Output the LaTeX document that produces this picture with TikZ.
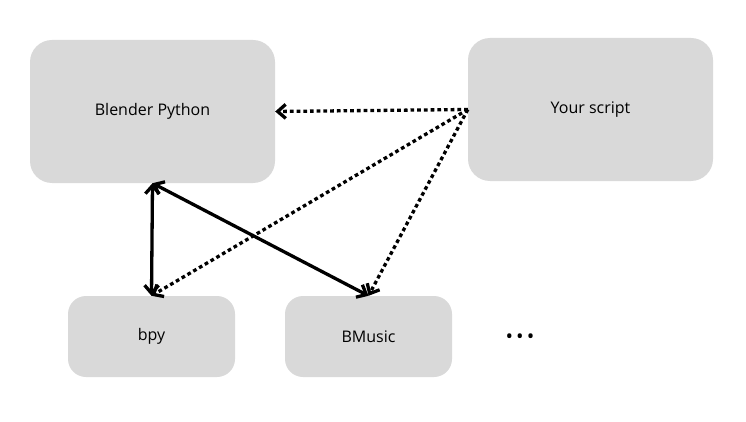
\documentclass[tikz,border=0pt]{standalone}
\usepackage{fontspec}
\setmainfont{Open Sans}
\usetikzlibrary{arrows.meta}

\begin{document}
\begin{tikzpicture}[x=1pt,y=-1pt,
  box/.style={fill=black!15, rounded corners=22pt, inner sep=0pt, font=\fontsize{16}{19}\selectfont},
  small/.style={box, rounded corners=18pt},
  link/.style={line width=3.3pt, {Straight Barb[length=8pt,width=14pt]}-{Straight Barb[length=8pt,width=14pt]}},
  call/.style={line width=3.3pt, dash pattern=on 3.7pt off 3pt, -{Straight Barb[length=8pt,width=14pt]}}]

\useasboundingbox (0,0) rectangle (746,422);

\node[box, minimum width=245pt, minimum height=143pt] (python) at (152.5,111.5) {Blender Python};
\node[box, minimum width=245pt, minimum height=143pt] (script) at (590.5,109.5) {Your script};

\node[small, minimum width=167pt, minimum height=81pt] (bpy) at (151.5,336.5) {bpy};
\node[small, minimum width=167pt, minimum height=81pt] (bmusic) at (368.5,336.5) {BMusic};

\node[font=\fontsize{20}{22}\selectfont] (more) at (520,339) {•\hspace{3pt}•\hspace{3pt}•};

% calls from the script
\draw[call] (script.west) -- (python.east);
\draw[call] (script.west) -- (bpy.north);
\draw[call] (script.west) -- (bmusic.north);

% links between the modules
\draw[link] (python.south) -- (bpy.north);
\draw[link] (python.south) -- (bmusic.north);

\end{tikzpicture}
\end{document}
